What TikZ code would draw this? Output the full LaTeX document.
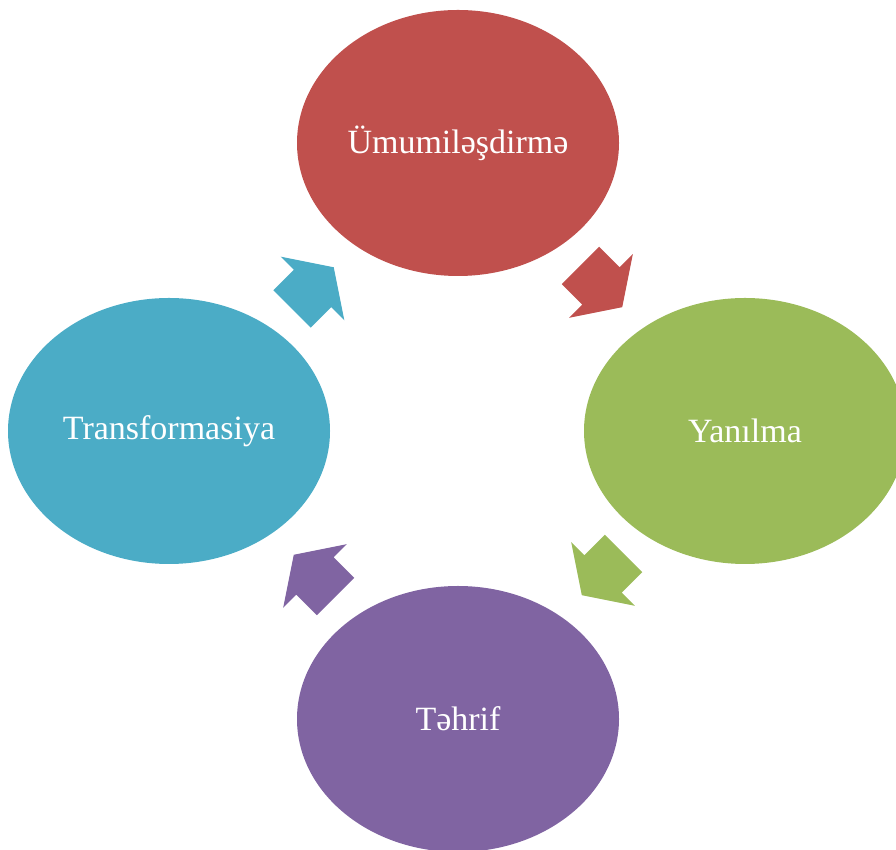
\documentclass[tikz,border=0pt]{standalone}
\usepackage{fontspec}
\setmainfont{Liberation Serif}
\usetikzlibrary{shapes.geometric}
\definecolor{cycRed}{HTML}{C0504D}
\definecolor{cycGreen}{HTML}{9BBB59}
\definecolor{cycPurple}{HTML}{8064A2}
\definecolor{cycBlue}{HTML}{4BACC6}
\begin{document}
\begin{tikzpicture}[x=1pt,y=1pt,
  stage/.style={ellipse, minimum width=322pt, minimum height=266pt, inner sep=0pt,
    text=white, font=\fontsize{34}{38}\selectfont},
  cyclearrow/.pic={
    \fill[pic actions] (-29,-26.5) -- (0,-26.5) -- (0,-45) -- (30,0) -- (0,45)
      -- (0,26.5) -- (-29,26.5) -- cycle;
  }]
  \useasboundingbox (0,0) rectangle (896,850);
  \clip (0,0) rectangle (896,850);
  % four stages of the cycle
  \node[stage, fill=cycRed]    (gen)   at (458,707) {Ümumiləşdirmə};
  \node[stage, fill=cycGreen]  (err)   at (745,419) {Yanılma};
  \node[stage, fill=cycPurple] (dist)  at (458,131) {Təhrif};
  \node[stage, fill=cycBlue]   (trans) at (169,419) {Transformasiya};
  % block arrows between the stages
  \pic[fill=cycRed, rotate=-45]     at (601,564)   {cyclearrow};
  \pic[fill=cycGreen, rotate=-135]  at (603,276)   {cyclearrow};
  \pic[fill=cycPurple, rotate=135]  at (315,274)   {cyclearrow};
  \pic[fill=cycBlue, rotate=45]     at (312.5,561.5) {cyclearrow};
\end{tikzpicture}
\end{document}
